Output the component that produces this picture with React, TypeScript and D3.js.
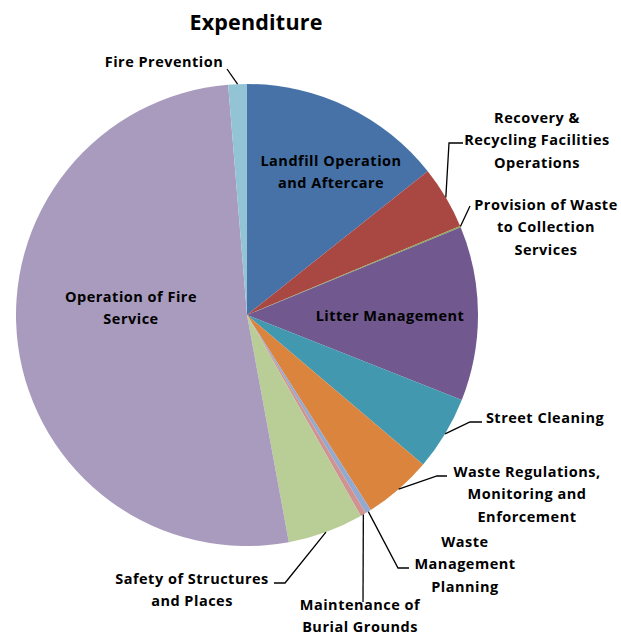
import React from "react";
import * as d3 from "d3";

const categories = [
  "Landfill Operation and Aftercare",
  "Recovery & Recycling Facilities Operations",
  "Provision of Waste to Collection Services",
  "Litter Management",
  "Street Cleaning",
  "Waste Regulations, Monitoring and Enforcement",
  "Waste Management Planning",
  "Maintenance of Burial Grounds",
  "Safety of Structures and Places",
  "Operation of Fire Service",
  "Fire Prevention",
];
const values = [14.3, 4.4, 0.1, 12.2, 5.2, 4.8, 0.4, 0.4, 5.3, 51.6, 1.3];
const colors = [
  "#4672A8", "#A94843", "#8AA64F", "#71598F", "#4198AF", "#DB843D",
  "#93A9CF", "#D19392", "#B9CD96", "#A99BBD", "#92C4D5",
];
const labelLines = [
  ["Landfill Operation", "and Aftercare"],
  ["Recovery &", "Recycling Facilities", "Operations"],
  ["Provision of Waste", "to Collection", "Services"],
  ["Litter Management"],
  ["Street Cleaning"],
  ["Waste Regulations,", "Monitoring and", "Enforcement"],
  ["Waste", "Management", "Planning"],
  ["Maintenance of", "Burial Grounds"],
  ["Safety of Structures", "and Places"],
  ["Operation of Fire", "Service"],
  ["Fire Prevention"],
];
const title = "Expenditure";

// layout: label centre x, first baseline y, leader polyline start points (null = no leader)
const layout: { x: number; y: number; leader: [number, number][] | null }[] = [
  { x: 331, y: 166, leader: null },
  { x: 537, y: 123, leader: [[463, 143], [449, 143]] },
  { x: 546, y: 210, leader: [[470, 206]] },
  { x: 390, y: 321, leader: null },
  { x: 545, y: 423, leader: [[482, 422], [470, 422]] },
  { x: 527, y: 477, leader: [[447, 476], [437, 476]] },
  { x: 465, y: 547, leader: [[409, 568], [398, 568]] },
  { x: 360, y: 610, leader: [[363, 602]] },
  { x: 192, y: 584, leader: [[274, 583], [285, 583]] },
  { x: 131, y: 302, leader: null },
  { x: 164, y: 67, leader: [[227, 69]] },
];

const cx = 247;
const cy = 315;
const R = 231;
const lineH = 22.3;
const font = "'Open Sans', sans-serif";

export default function App() {
  const pie = d3.pie<number>().sort(null).value((d) => d)(values);
  const arc = d3.arc<d3.PieArcDatum<number>>().innerRadius(0).outerRadius(R);
  return (
    <svg width={621} height={636} style={{ position: "absolute", left: 0, top: 0 }}>
      <rect width={621} height={636} fill="#fff" />
      <text x={256} y={30} textAnchor="middle" fontFamily={font} fontWeight="bold" fontSize={21.5} letterSpacing={0.2} fill="#000">
        {title}
      </text>
      <g transform={`translate(${cx},${cy})`}>
        {pie.map((p, i) => (
          <path key={i} d={arc(p) || ""} fill={colors[i]} />
        ))}
      </g>
      {pie.map((p, i) => {
        const L = layout[i];
        if (!L.leader) return null;
        const mid = (p.startAngle + p.endAngle) / 2;
        const end: [number, number] = [cx + R * Math.sin(mid), cy - R * Math.cos(mid)];
        const pts = [...L.leader, end];
        return (
          <polyline
            key={"l" + i}
            points={pts.map((q) => q.join(",")).join(" ")}
            fill="none"
            stroke="#000"
            strokeWidth={1.3}
          />
        );
      })}
      {labelLines.map((lines, i) => (
        <text key={"t" + i} textAnchor="middle" fontFamily={font} fontWeight="bold" fontSize={14.5} letterSpacing={0.5} fill="#000">
          {lines.map((s, j) => (
            <tspan key={j} x={layout[i].x} y={layout[i].y + j * lineH}>
              {s}
            </tspan>
          ))}
        </text>
      ))}
    </svg>
  );
}
